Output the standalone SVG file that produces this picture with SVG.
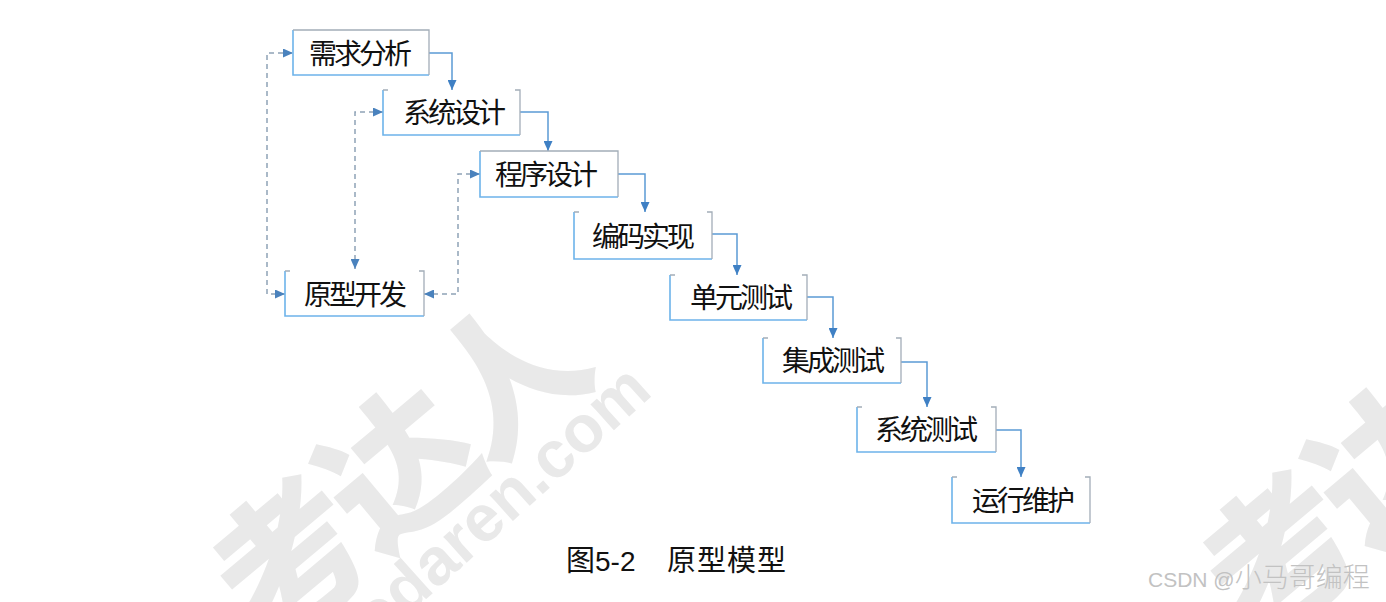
<svg xmlns="http://www.w3.org/2000/svg" width="1386" height="602" viewBox="0 0 1386 602">
<style>
.wm{font-family:"Noto Sans CJK SC","Noto Sans",sans-serif;font-weight:900;fill:#e9e9e9}
.wm2{font-family:"Liberation Sans",Arial,sans-serif;font-weight:bold;fill:#e9e9e9}
.bg{fill:#fff}
.lb{fill:none;stroke:#6db3ea;stroke-width:1.6}
.rt{fill:none;stroke:#a3adb8;stroke-width:1.3}
.lbl{font-family:"Noto Sans CJK SC","Noto Sans",sans-serif;font-size:28px;fill:#111;letter-spacing:-3px;text-anchor:middle}
.solid{fill:none;stroke:#5b9bd5;stroke-width:1.5}
.dash{fill:none;stroke:#8fa2b6;stroke-width:1.5;stroke-dasharray:5 4}
.cap{font-family:"Noto Sans CJK SC","Noto Sans",sans-serif;font-size:29px;fill:#111}
.csdn{font-family:"Liberation Sans",Arial,"Noto Sans CJK SC",sans-serif;fill:#c2c2c2}
</style>
<defs>
<marker id="ah" markerUnits="userSpaceOnUse" markerWidth="11" markerHeight="9" refX="10" refY="4.5" orient="auto-start-reverse">
<path d="M0,0 L10,4.5 L0,9 z" fill="#3f80c4"/>
</marker>
<marker id="ad" markerUnits="userSpaceOnUse" markerWidth="11" markerHeight="9" refX="10" refY="4.5" orient="auto-start-reverse">
<path d="M0,0 L10,4.5 L0,9 z" fill="#4a82bd"/>
</marker>
</defs>
<rect width="1386" height="602" fill="#fff"/>
<g id="watermark">
<text class="wm" font-size="150" letter-spacing="-8" text-anchor="middle" dominant-baseline="central" transform="translate(390,462) rotate(-40)">考达人</text>
<text class="wm2" font-size="66" text-anchor="end" transform="translate(654,394) rotate(-42)">kaodaren.com</text>
<text class="wm" font-size="150" letter-spacing="-8" text-anchor="middle" dominant-baseline="central" transform="translate(1380,457) rotate(-40)">考达人</text>
</g>
<g id="connectors">
<path class="solid" d="M429,53 H452 V90" marker-end="url(#ah)"/>
<path class="solid" d="M520,112 H548 V151" marker-end="url(#ah)"/>
<path class="solid" d="M618,174 H645 V212" marker-end="url(#ah)"/>
<path class="solid" d="M712,234 H737 V275" marker-end="url(#ah)"/>
<path class="solid" d="M807,297 H833 V338" marker-end="url(#ah)"/>
<path class="solid" d="M901,362 H927 V407" marker-end="url(#ah)"/>
<path class="solid" d="M996,430 H1021 V477" marker-end="url(#ah)"/>
<path class="dash" d="M285,294 H267 V53 H293" marker-start="url(#ad)" marker-end="url(#ad)"/>
<path class="dash" d="M383,112 H355 V269" marker-start="url(#ad)" marker-end="url(#ad)"/>
<path class="dash" d="M424,294 H458 V174 H480" marker-start="url(#ad)" marker-end="url(#ad)"/>
</g>
<g id="n1">
<rect class="bg" x="293" y="30" width="136" height="45"/>
<path class="lb" d="M293,30 V75 H429"/>
<path class="rt" d="M293,30 H429 V75"/>
<text class="lbl" x="359" y="64">需求分析</text>
</g>
<g id="n2">
<rect class="bg" x="383" y="90" width="137" height="45"/>
<path class="lb" d="M383,90 V135 H520"/>
<path class="rt" d="M383,90 H388 M515,90 H520 V135"/>
<text class="lbl" x="453" y="123">系统设计</text>
</g>
<g id="n3">
<rect class="bg" x="480" y="151" width="138" height="46"/>
<path class="lb" d="M480,151 V197 H618"/>
<path class="rt" d="M480,151 H618 V197"/>
<text class="lbl" x="545" y="185">程序设计</text>
</g>
<g id="n4">
<rect class="bg" x="574" y="212" width="138" height="47"/>
<path class="lb" d="M574,212 V259 H712"/>
<path class="rt" d="M574,212 H579 M707,212 H712 V259"/>
<text class="lbl" x="642" y="247">编码实现</text>
</g>
<g id="n5">
<rect class="bg" x="670" y="275" width="137" height="45"/>
<path class="lb" d="M670,275 V320 H807"/>
<path class="rt" d="M670,275 H675 M802,275 H807 V320"/>
<text class="lbl" x="740" y="308">单元测试</text>
</g>
<g id="n6">
<rect class="bg" x="763" y="338" width="138" height="45"/>
<path class="lb" d="M763,338 V383 H901"/>
<path class="rt" d="M763,338 H768 M896,338 H901 V383"/>
<text class="lbl" x="832" y="371">集成测试</text>
</g>
<g id="n7">
<rect class="bg" x="857" y="407" width="139" height="45"/>
<path class="lb" d="M857,407 V452 H996"/>
<path class="rt" d="M857,407 H862 M991,407 H996 V452"/>
<text class="lbl" x="925" y="440">系统测试</text>
</g>
<g id="n8">
<rect class="bg" x="952" y="477" width="138" height="46"/>
<path class="lb" d="M952,477 V523 H1090"/>
<path class="rt" d="M952,477 H957 M1085,477 H1090 V523"/>
<text class="lbl" x="1022" y="511">运行维护</text>
</g>
<g id="n9">
<rect class="bg" x="285" y="271" width="139" height="45"/>
<path class="lb" d="M285,271 V316 H424"/>
<path class="rt" d="M285,271 H290 M419,271 H424 V316"/>
<text class="lbl" x="354" y="305">原型开发</text>
</g>
<g id="caption">
<text class="cap" x="566" y="571">图<tspan font-family="Liberation Sans, Arial, sans-serif" font-size="28">5-2</tspan></text>
<text class="cap" x="667" y="571" letter-spacing="1">原型模型</text>
</g>
<text class="csdn" x="1148" y="587" font-size="21">CSDN @<tspan font-family="Noto Sans CJK SC, sans-serif" font-weight="300" font-size="27">小马哥编程</tspan></text>
</svg>
